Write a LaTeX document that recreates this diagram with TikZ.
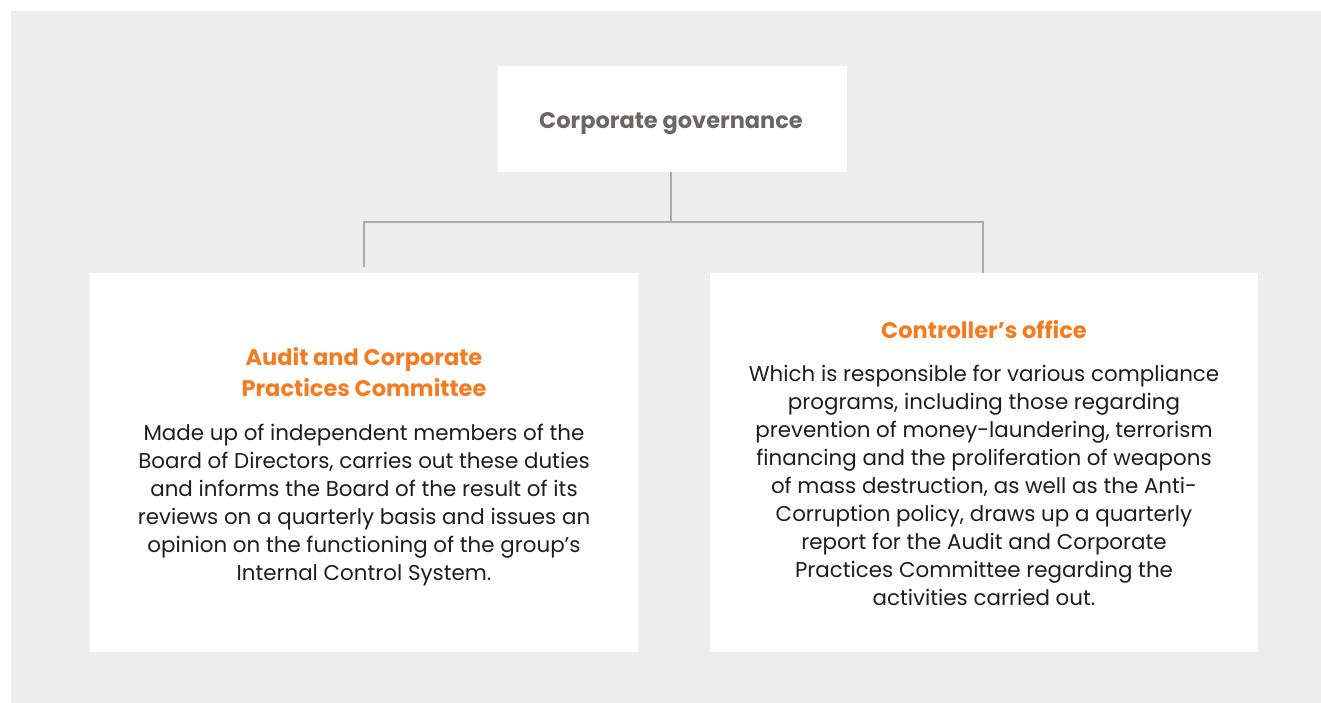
\documentclass[tikz,border=0pt]{standalone}
\usepackage{fontspec}
\setmainfont{Poppins}
\definecolor{bggray}{HTML}{EDEDED}
\definecolor{titlegray}{HTML}{6D6466}
\definecolor{orangec}{HTML}{F47B20}
\definecolor{bodyc}{HTML}{1E1E1E}
\definecolor{linec}{HTML}{ABABAB}
\tikzset{
  card/.style={fill=white, draw=none, inner sep=0pt, anchor=north west},
  headtxt/.style={text=orangec, font=\fontsize{22.5}{31}\selectfont\bfseries, align=center, inner sep=0pt},
  bodytxt/.style={text=bodyc, font=\fontsize{21.4}{28}\selectfont, align=center, inner sep=0pt},
  conn/.style={draw=linec, line width=1.8pt}
}
\begin{document}
\begin{tikzpicture}[x=1pt,y=-1pt]
\useasboundingbox (0,0) rectangle (1321,703);
\fill[bggray] (11,11) rectangle (1321,703);
% boxes
\node[card, minimum width=349pt, minimum height=106pt] (top) at (498,66) {};
\node[card, minimum width=548pt, minimum height=379pt] (left) at (90,273) {};
\node[card, minimum width=548pt, minimum height=379pt] (right) at (710,273) {};
% title
\node[text=titlegray, font=\fontsize{22.5}{26}\selectfont\bfseries, inner sep=0pt] (ttl) at (671,124) {Corporate governance};
% connectors
\coordinate (j) at (671,222);
\coordinate (lt) at (364,267);
\coordinate (rt) at (983,273);
\draw[conn] (top.south -| j) -- (j);
\draw[conn] (lt) |- (j) -| (rt);
% left card text
\node[headtxt] (lh) at (364,372) {Audit and Corporate\\Practices Committee};
\node[bodytxt] (lb) at (364,505) {Made up of independent members of the\\Board of Directors, carries out these duties\\and informs the Board of the result of its\\reviews on a quarterly basis and issues an\\opinion on the functioning of the group’s\\Internal Control System.};
% right card text
\node[headtxt] (rh) at (984,330) {Controller’s office};
\node[bodytxt] (rb) at (984,485) {Which is responsible for various compliance\\programs, including those regarding\\prevention of money-laundering, terrorism\\financing and the proliferation of weapons\\of mass destruction, as well as the Anti-\\Corruption policy, draws up a quarterly\\report for the Audit and Corporate\\Practices Committee regarding the\\activities carried out.};
\end{tikzpicture}
\end{document}
